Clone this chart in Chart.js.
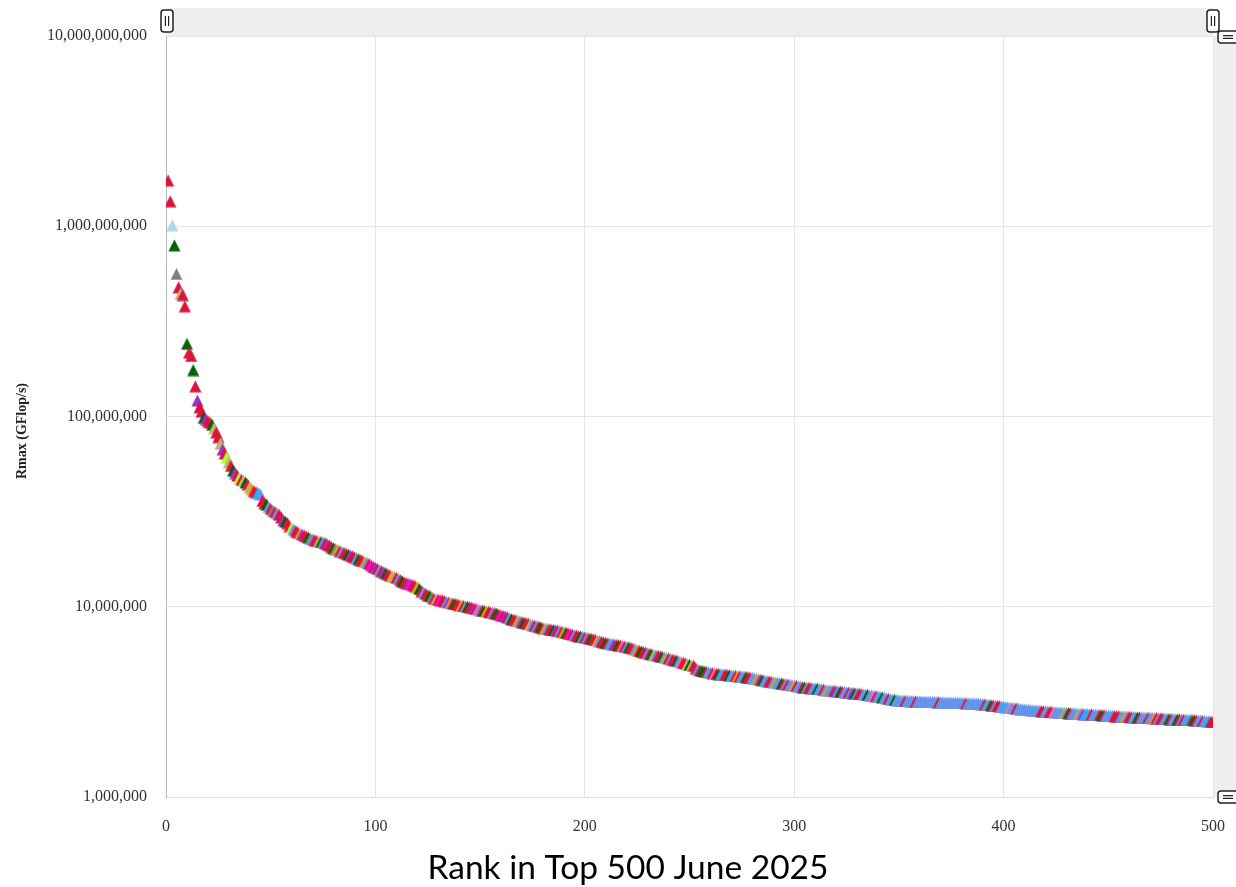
<!DOCTYPE html>
<html>
<head>
<meta charset="utf-8">
<script src="https://cdn.jsdelivr.net/npm/chart.js@4.4.1/dist/chart.umd.min.js"></script>
<style>
  html, body { margin: 0; padding: 0; background: #fff; }
  #chart { display: block; }
</style>
</head>
<body>
<canvas id="chart" width="1236" height="887"></canvas>
<script>
// Rmax per rank, in PFlop/s (converted to GFlop/s when plotted)
const rmaxPF = [
    1742, 1353, 1012, 793.4, 561.2, 477.9, 442.0, 434.9, 379.7, 241.2,
    216.5, 208.1, 175.3, 144.0, 121.4, 112.0, 106.2, 98.51, 97.0, 94.64,
    93.01, 90.5, 87.0, 82.5, 78.0, 72.0, 67.0, 64.0, 61.0, 57.5,
    55.0, 52.0, 50.4, 49.0, 47.5, 46.5, 46.0, 45.0, 44.0, 42.5,
    41.5, 40.5, 40.0, 39.6, 39.0, 36.0, 35.0, 34.5, 33.5, 32.7,
    32.0, 31.5, 31.0, 30.5, 29.5, 28.5, 28.0, 27.5, 26.5, 26.0,
    25.5, 25.0, 24.6, 24.2, 24.0, 23.7, 23.4, 23.1, 22.8, 22.6,
    22.4, 22.2, 22.0, 21.9, 21.8, 21.6, 21.3, 21.0, 20.6, 20.3,
    20.1, 19.9, 19.6, 19.4, 19.2, 19.0, 18.8, 18.6, 18.4, 18.2,
    18.0, 17.8, 17.6, 17.4, 17.2, 17.0, 16.8, 16.5, 16.2, 16.0,
    15.8, 15.6, 15.4, 15.2, 15.0, 14.8, 14.6, 14.5, 14.35, 14.2,
    14.0, 13.8, 13.6, 13.4, 13.3, 13.2, 13.1, 13.0, 12.85, 12.7,
    12.4, 12.1, 11.9, 11.7, 11.5, 11.4, 11.2, 11.0, 10.95, 10.9,
    10.85, 10.8, 10.7, 10.6, 10.55, 10.5, 10.4, 10.35, 10.3, 10.2,
    10.15, 10.1, 10.05, 10.0, 9.95, 9.9, 9.8, 9.75, 9.7, 9.6,
    9.55, 9.5, 9.45, 9.4, 9.35, 9.3, 9.27, 9.2, 9.1, 9.0,
    8.95, 8.9, 8.8, 8.7, 8.6, 8.55, 8.5, 8.45, 8.4, 8.3,
    8.25, 8.2, 8.15, 8.1, 8.0, 7.95, 7.9, 7.85, 7.8, 7.7,
    7.68, 7.65, 7.6, 7.58, 7.55, 7.5, 7.48, 7.45, 7.4, 7.35,
    7.3, 7.25, 7.2, 7.15, 7.1, 7.05, 7.0, 6.98, 6.95, 6.9,
    6.86, 6.82, 6.78, 6.74, 6.7, 6.65, 6.6, 6.55, 6.5, 6.45,
    6.42, 6.4, 6.37, 6.34, 6.3, 6.28, 6.25, 6.22, 6.18, 6.15,
    6.12, 6.08, 6.03, 5.98, 5.92, 5.87, 5.82, 5.78, 5.74, 5.7,
    5.66, 5.62, 5.59, 5.55, 5.52, 5.49, 5.45, 5.42, 5.38, 5.35,
    5.31, 5.27, 5.24, 5.2, 5.16, 5.12, 5.08, 5.04, 5.0, 4.95,
    4.92, 4.9, 4.75, 4.68, 4.62, 4.6, 4.57, 4.55, 4.52, 4.5,
    4.48, 4.46, 4.45, 4.43, 4.42, 4.41, 4.4, 4.38, 4.37, 4.35,
    4.34, 4.33, 4.32, 4.31, 4.3, 4.29, 4.27, 4.26, 4.24, 4.22,
    4.2, 4.18, 4.15, 4.13, 4.11, 4.09, 4.07, 4.05, 4.03, 4.02,
    4.0, 3.98, 3.96, 3.95, 3.93, 3.92, 3.9, 3.89, 3.87, 3.85,
    3.84, 3.82, 3.8, 3.78, 3.77, 3.76, 3.75, 3.74, 3.73, 3.72,
    3.71, 3.7, 3.68, 3.67, 3.65, 3.64, 3.63, 3.62, 3.61, 3.6,
    3.59, 3.58, 3.57, 3.56, 3.55, 3.54, 3.53, 3.52, 3.51, 3.5,
    3.49, 3.48, 3.46, 3.45, 3.44, 3.42, 3.41, 3.4, 3.39, 3.38,
    3.36, 3.34, 3.32, 3.3, 3.28, 3.26, 3.25, 3.24, 3.23, 3.22,
    3.21, 3.2, 3.2, 3.2, 3.19, 3.19, 3.19, 3.18, 3.18, 3.18,
    3.17, 3.17, 3.17, 3.16, 3.16, 3.16, 3.16, 3.15, 3.15, 3.15,
    3.15, 3.14, 3.14, 3.14, 3.13, 3.13, 3.13, 3.13, 3.12, 3.12,
    3.12, 3.11, 3.11, 3.1, 3.1, 3.1, 3.09, 3.09, 3.08, 3.08,
    3.07, 3.06, 3.05, 3.04, 3.03, 3.02, 3.01, 3.0, 2.99, 2.98,
    2.97, 2.96, 2.95, 2.94, 2.93, 2.92, 2.91, 2.9, 2.89, 2.88,
    2.87, 2.87, 2.86, 2.86, 2.85, 2.85, 2.84, 2.83, 2.82, 2.81,
    2.81, 2.8, 2.8, 2.79, 2.79, 2.78, 2.78, 2.77, 2.77, 2.77,
    2.76, 2.76, 2.75, 2.75, 2.74, 2.74, 2.74, 2.73, 2.73, 2.73,
    2.72, 2.72, 2.71, 2.71, 2.7, 2.7, 2.69, 2.69, 2.68, 2.68,
    2.67, 2.67, 2.66, 2.66, 2.66, 2.65, 2.65, 2.65, 2.64, 2.64,
    2.63, 2.63, 2.63, 2.62, 2.62, 2.62, 2.61, 2.61, 2.61, 2.61,
    2.6, 2.6, 2.6, 2.59, 2.59, 2.59, 2.58, 2.58, 2.57, 2.57,
    2.57, 2.56, 2.56, 2.56, 2.55, 2.55, 2.55, 2.54, 2.54, 2.54,
    2.53, 2.53, 2.52, 2.52, 2.51, 2.51, 2.5, 2.5, 2.49, 2.48
];

// one letter per rank: the colour group of each system
const groupCodes = [
    'RRLGYRKRRG', 'RRGRPRRGPR', 'RGKRRKPRCK', 'RGPRCRKGRK', 'ORRSBRRGBR',
    'YRBRRPGRRC', 'BRROPRRGYB', 'RRKGBRPRRG', 'YORBRRGPRR', 'BGRROBRMRP',
    'RBRPGRRKOR', 'BRGRRPMRRO', 'GRBRRGYRKR', 'MRRBPORGRR', 'ORBGRRPRHB',
    'RGORRBRGRM', 'RPRBGRROBR', 'GRRKBRBRGR', 'OBRRGPRBRO', 'GRMRBRRGBR',
    'BRGRROBRRG', 'RBBPRGRHRB', 'GRRBORGRRB', 'RGKBRRGBOR', 'BRRGBHRRKG',
    'KRRBRGGRBB', 'RHRGBBRRGB', 'BRORBBGRRB', 'BOBRGBBRRB', 'OBBGRBRBBO',
    'RBBRGBRRBB', 'GBBRBOBBRP', 'BGRBBRBPGB', 'RRBBGBBHRB', 'BGBBRBBGBB',
    'BBRBBBBRBB', 'BBBBBBBBRB', 'BBBBBBBBBB', 'BRBBBBBBBB', 'RBBGRBRRBB',
    'SBHBBRBBBB', 'BBBBBBBRRB', 'BRRHBBBBOB', 'GRBBBOBPBS', 'BRBBBRGRBB',
    'BBRRRBBOBR', 'RBBGRBBBRB', 'BDRBRRBBGR', 'BBGRBRBBSR', 'GRBBRBBSRR'
].join('');

const groupColors = {
    R: '#dc143c', B: '#6495ed', G: '#006400', Y: '#808080', K: '#bdb76b',
    L: '#add8e6', P: '#9932cc', O: '#daa520', C: '#adff2f', M: '#ff00ff',
    T: '#d2b48c', S: '#00bfff', H: '#ff69b4', D: '#ff8c00'
};

const xTicks = [0, 100, 200, 300, 400, 500];
const yTicks = [1e6, 1e7, 1e8, 1e9, 1e10];
const xAxisTitle = 'Rank in Top 500 June 2025';
const yAxisTitle = 'Rmax (GFlop/s)';

// triangle marker images, one per colour (same width and height, like the original symbols)
function triangleMarker(color) {
    const size = 13;
    const c = document.createElement('canvas');
    c.width = size;
    c.height = size;
    const g = c.getContext('2d');
    g.fillStyle = color;
    g.beginPath();
    g.moveTo(size / 2, 0.5);
    g.lineTo(size - 0.5, size - 0.5);
    g.lineTo(0.5, size - 0.5);
    g.closePath();
    g.fill();
    return c;
}
const markers = {};
Object.keys(groupColors).forEach(k => { markers[k] = triangleMarker(groupColors[k]); });

const points = rmaxPF.map((v, i) => ({ x: i + 1, y: v * 1e6 }));
const pointCodes = rmaxPF.map((v, i) => groupColors[groupCodes[i]] ? groupCodes[i] : 'B');

function drawHandle(ctx, cx, cy, w, h, vertical) {
    ctx.beginPath();
    ctx.roundRect(cx - w / 2, cy - h / 2, w, h, 3);
    ctx.fillStyle = '#fff';
    ctx.fill();
    ctx.lineWidth = 1.5;
    ctx.strokeStyle = '#222';
    ctx.stroke();
    ctx.lineWidth = 1.2;
    ctx.beginPath();
    if (vertical) {
        ctx.moveTo(cx - 1.6, cy - 5); ctx.lineTo(cx - 1.6, cy + 5);
        ctx.moveTo(cx + 1.6, cy - 5); ctx.lineTo(cx + 1.6, cy + 5);
    } else {
        ctx.moveTo(cx - 5, cy - 1.4); ctx.lineTo(cx + 5, cy - 1.4);
        ctx.moveTo(cx - 5, cy + 1.4); ctx.lineTo(cx + 5, cy + 1.4);
    }
    ctx.stroke();
}

const decor = {
    id: 'decor',
    beforeDraw(chart) {
        const { ctx, chartArea: a } = chart;
        ctx.save();
        ctx.fillStyle = '#eeeeee';
        ctx.fillRect(a.left, 8, a.right - a.left, a.top - 8);
        ctx.fillRect(a.right, a.top, chart.width - a.right, a.bottom - a.top);
        ctx.restore();
    },
    afterDraw(chart) {
        const { ctx, chartArea: a } = chart;
        ctx.save();
        drawHandle(ctx, a.left + 1, 21, 12, 22, true);
        drawHandle(ctx, a.right, 21, 12, 22, true);
        drawHandle(ctx, a.right + 15, a.top + 1, 20, 12, false);
        drawHandle(ctx, a.right + 15, a.bottom, 20, 12, false);

        // y axis name
        ctx.fillStyle = '#222';
        ctx.font = 'bold 14px "Liberation Serif", serif';
        ctx.textAlign = 'center';
        ctx.textBaseline = 'middle';
        ctx.translate(22, 431);
        ctx.rotate(-Math.PI / 2);
        ctx.fillText(yAxisTitle, 0, 0);
        ctx.restore();

        // x axis caption
        ctx.save();
        let size = 32;
        ctx.font = size + 'px Lato, sans-serif';
        size = size * 401 / ctx.measureText(xAxisTitle).width;
        ctx.font = size.toFixed(1) + 'px Lato, sans-serif';
        ctx.fillStyle = '#000';
        ctx.textAlign = 'center';
        ctx.textBaseline = 'middle';
        ctx.fillText(xAxisTitle, 628, 868);
        ctx.restore();
    }
};

const tickFont = { family: '"Liberation Serif", serif', size: 16 };

new Chart(document.getElementById('chart').getContext('2d'), {
    type: 'scatter',
    data: {
        datasets: [{
            data: points,
            pointStyle: pointCodes.map(k => markers[k]),
            pointRadius: 6,
            pointHoverRadius: 6,
            pointBackgroundColor: pointCodes.map(k => groupColors[k]),
            pointBorderWidth: 0,
            borderWidth: 0
        }]
    },
    options: {
        responsive: false,
        animation: false,
        events: [],
        layout: { padding: { top: 36, right: 23, left: 0, bottom: 0 } },
        plugins: {
            legend: { display: false },
            tooltip: { enabled: false }
        },
        scales: {
            x: {
                type: 'linear',
                min: 0,
                max: 500,
                afterBuildTicks: s => { s.ticks = xTicks.map(v => ({ value: v })); },
                afterFit: s => { s.height = 90; s.paddingLeft = 0; s.paddingRight = 0; },
                grid: { color: '#e6e6e6', drawTicks: false },
                border: { color: '#dddddd' },
                ticks: { font: tickFont, color: '#333', padding: 20, maxRotation: 0 }
            },
            y: {
                type: 'logarithmic',
                min: 1e6,
                max: 1e10,
                afterBuildTicks: s => { s.ticks = yTicks.map(v => ({ value: v })); },
                afterFit: s => { s.width = 166; },
                grid: { color: '#e6e6e6', drawTicks: false },
                border: { color: '#b8b8b8' },
                ticks: {
                    font: tickFont,
                    color: '#333',
                    padding: 19,
                    callback: v => Number(v).toLocaleString('en-US')
                }
            }
        }
    },
    plugins: [decor]
});
</script>
</body>
</html>
